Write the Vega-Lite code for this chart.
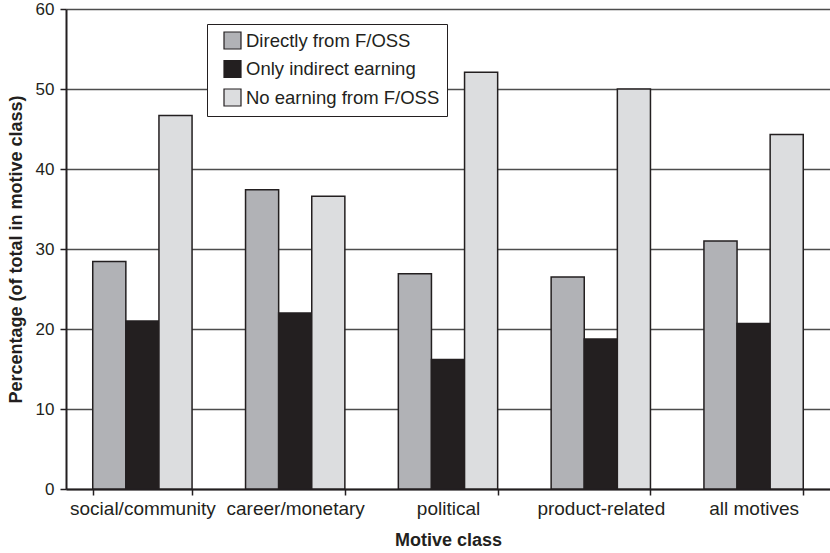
{
  "$schema": "https://vega.github.io/schema/vega-lite/v6.json",
  "width": 764,
  "height": 480,
  "autosize": {"type": "none"},
  "padding": {"left": 66, "top": 9, "right": 0, "bottom": 64},
  "background": "white",
  "config": {
    "view": {"stroke": null},
    "font": "Liberation Sans"
  },
  "data": {
    "values": [
      {"motive": "social/community", "type": "Directly from F/OSS", "value": 28.45},
      {"motive": "social/community", "type": "Only indirect earning", "value": 21.0},
      {"motive": "social/community", "type": "No earning from F/OSS", "value": 46.7},
      {"motive": "career/monetary", "type": "Directly from F/OSS", "value": 37.4},
      {"motive": "career/monetary", "type": "Only indirect earning", "value": 22.0},
      {"motive": "career/monetary", "type": "No earning from F/OSS", "value": 36.6},
      {"motive": "political", "type": "Directly from F/OSS", "value": 26.9},
      {"motive": "political", "type": "Only indirect earning", "value": 16.2},
      {"motive": "political", "type": "No earning from F/OSS", "value": 52.1},
      {"motive": "product-related", "type": "Directly from F/OSS", "value": 26.5},
      {"motive": "product-related", "type": "Only indirect earning", "value": 18.75},
      {"motive": "product-related", "type": "No earning from F/OSS", "value": 50.0},
      {"motive": "all motives", "type": "Directly from F/OSS", "value": 31.0},
      {"motive": "all motives", "type": "Only indirect earning", "value": 20.7},
      {"motive": "all motives", "type": "No earning from F/OSS", "value": 44.3}
    ]
  },
  "mark": {"type": "bar", "stroke": "#231f20", "strokeWidth": 1.5},
  "encoding": {
    "x": {
      "field": "motive",
      "type": "nominal",
      "sort": ["social/community", "career/monetary", "political", "product-related", "all motives"],
      "scale": {"paddingInner": 0.35, "paddingOuter": 0.175},
      "axis": {
        "title": "Motive class",
        "titleFont": "Liberation Sans",
        "titleFontSize": 18,
        "titleFontWeight": "bold",
        "titleColor": "#231f20",
        "titlePadding": 13,
        "labelAngle": 0,
        "labelFontSize": 19,
        "labelColor": "#231f20",
        "labelPadding": 4,
        "tickBand": "extent",
        "tickSize": 6,
        "tickColor": "#231f20",
        "tickWidth": 1.5,
        "domainColor": "#231f20",
        "domainWidth": 2,
        "grid": false
      }
    },
    "xOffset": {
      "field": "type",
      "type": "nominal",
      "sort": ["Directly from F/OSS", "Only indirect earning", "No earning from F/OSS"],
      "scale": {"paddingInner": 0, "paddingOuter": 0}
    },
    "y": {
      "field": "value",
      "type": "quantitative",
      "scale": {"domain": [0, 60], "nice": false},
      "axis": {
        "title": "Percentage (of total in motive class)",
        "titleFont": "Liberation Sans",
        "titleFontSize": 18,
        "titleFontWeight": "bold",
        "titleColor": "#231f20",
        "titlePadding": 10,
        "values": [0, 10, 20, 30, 40, 50, 60],
        "labelFontSize": 17,
        "labelColor": "#231f20",
        "labelPadding": 6,
        "tickSize": 6,
        "tickColor": "#231f20",
        "tickWidth": 1.5,
        "domainColor": "#231f20",
        "domainWidth": 2,
        "grid": true,
        "gridColor": "#4d4d4d",
        "gridWidth": 1.3
      }
    },
    "color": {
      "field": "type",
      "type": "nominal",
      "scale": {
        "domain": ["Directly from F/OSS", "Only indirect earning", "No earning from F/OSS"],
        "range": ["#b1b2b6", "#231f20", "#dcdddf"]
      },
      "legend": {
        "title": null,
        "orient": "none",
        "legendX": 141,
        "legendY": 15,
        "fillColor": "white",
        "strokeColor": "#231f20",
        "padding": 7,
        "symbolOffset": 9,
        "symbolType": "square",
        "symbolSize": 289,
        "symbolStrokeColor": "#231f20",
        "symbolStrokeWidth": 1.2,
        "labelFontSize": 18.5,
        "labelColor": "#231f20",
        "labelOffset": 4,
        "rowPadding": 5.5,
        "labelLimit": 300
      }
    }
  }
}
